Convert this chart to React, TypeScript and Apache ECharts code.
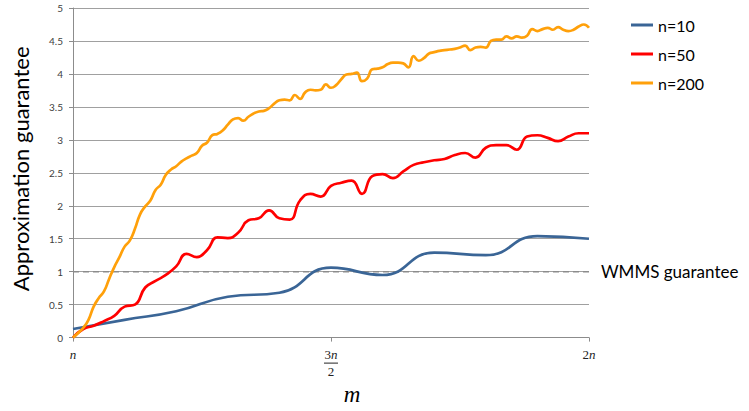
import React, { useEffect, useRef } from "react";
import * as echarts from "echarts";

// x positions are m/n, from n (1) to 2n (2)
const xTickValues = [1, 1.5, 2];
const seriesNames = ["n=10", "n=50", "n=200"];
const guaranteeValue = 1;
const guaranteeLabel = "WMMS guarantee";

const n10 = [0.13, 0.27, 0.4, 0.62, 0.68, 1.06, 0.95, 1.29, 1.25, 1.54, 1.5];

const n50 = [
  0.0, 0.13, 0.18, 0.25, 0.33, 0.47, 0.5, 0.76, 0.86, 0.95,
  1.08, 1.27, 1.22, 1.33, 1.52, 1.51, 1.59, 1.78, 1.81, 1.93,
  1.81, 1.79, 2.08, 2.18, 2.14, 2.3, 2.35, 2.38, 2.18, 2.45,
  2.48, 2.42, 2.52, 2.62, 2.66, 2.69, 2.71, 2.77, 2.8, 2.73,
  2.88, 2.92, 2.92, 2.85, 3.05, 3.07, 3.03, 2.98, 3.05, 3.1,
  3.1,
];

const n200 = [
  0.0, 0.07, 0.15, 0.27, 0.47, 0.6, 0.7, 0.89, 1.07, 1.22,
  1.38, 1.47, 1.65, 1.87, 1.99, 2.08, 2.24, 2.32, 2.47, 2.55,
  2.6, 2.67, 2.72, 2.76, 2.8, 2.91, 2.96, 3.07, 3.09, 3.14,
  3.23, 3.31, 3.33, 3.29, 3.35, 3.4, 3.43, 3.44, 3.48, 3.55,
  3.6, 3.61, 3.6, 3.68, 3.62, 3.72, 3.76, 3.75, 3.76, 3.84,
  3.79, 3.83, 3.92, 3.99, 4.0, 4.02, 3.89, 3.93, 4.07, 4.08,
  4.1, 4.15, 4.17, 4.17, 4.16, 4.1, 4.27, 4.2, 4.24, 4.31,
  4.33, 4.35, 4.36, 4.37, 4.38, 4.4, 4.43, 4.36, 4.4, 4.41,
  4.4, 4.5, 4.52, 4.52, 4.57, 4.54, 4.57, 4.55, 4.58, 4.68,
  4.65, 4.68, 4.7, 4.67, 4.71, 4.67, 4.65, 4.67, 4.72, 4.75,
  4.7,
];

const colors = ["#3a6596", "#ff0000", "#ffa00a"];

function toPairs(vals: number[]) {
  return vals.map((v, i) => [1 + i / (vals.length - 1), v]);
}

export default function App() {
  const ref = useRef<HTMLDivElement>(null);
  useEffect(() => {
    if (!ref.current) return;
    const chart = echarts.init(ref.current, undefined, { renderer: "svg" });
    const sans = "Lato, 'Open Sans', sans-serif";
    const serif = "'Liberation Serif', 'DejaVu Serif', serif";
    chart.setOption({
      animation: false,
      backgroundColor: "#ffffff",
      grid: { left: 73, right: 160, top: 8, bottom: 67, containLabel: false },
      legend: {
        data: seriesNames,
        orient: "vertical",
        left: 626,
        top: 12,
        icon: "rect",
        itemWidth: 22,
        itemHeight: 3,
        itemGap: 13,
        textStyle: { fontFamily: sans, fontSize: 16, color: "#000" },
      },
      xAxis: {
        type: "value",
        min: 1,
        max: 2,
        interval: 0.5,
        name: "m",
        nameLocation: "middle",
        nameGap: 38,
        nameTextStyle: {
          fontFamily: serif,
          fontStyle: "italic",
          fontSize: 23,
          color: "#000",
          padding: [0, 0, 0, 42],
        },
        splitLine: { show: false },
        axisLine: { show: true, lineStyle: { color: "#8c8c8c", width: 1 } },
        axisTick: { show: true, length: 4, lineStyle: { color: "#8c8c8c" } },
        axisLabel: {
          margin: 10,
          fontFamily: serif,
          fontSize: 13,
          color: "#222",
          customValues: xTickValues,
          formatter: (v: number) => {
            if (v === 1) return "{i|n}";
            if (v === 2) return "{d|2}{i|n}";
            return "{d|3}{i|n}\n{bar|}\n{d|2}";
          },
          rich: {
            i: { fontFamily: serif, fontStyle: "italic", fontSize: 13, color: "#222", lineHeight: 14 },
            d: { fontFamily: serif, fontSize: 13, color: "#222", lineHeight: 14 },
            bar: { width: 14, height: 1, lineHeight: 3, backgroundColor: "#222" },
          },
        },
      },
      yAxis: {
        type: "value",
        min: 0,
        max: 5,
        interval: 0.5,
        name: "Approximation guarantee",
        nameLocation: "middle",
        nameGap: 42,
        nameTextStyle: { fontFamily: sans, fontSize: 22, color: "#000", padding: [0, 0, 0, 8] },
        axisLine: { show: true, lineStyle: { color: "#8c8c8c", width: 1 } },
        axisTick: { show: true, length: 4, lineStyle: { color: "#8c8c8c" } },
        axisLabel: { margin: 10, fontFamily: sans, fontSize: 10, color: "#404040" },
        splitLine: { show: true, lineStyle: { color: "#a0a0a0", width: 1 } },
      },
      series: [
        {
          name: "guarantee",
          type: "line",
          data: [
            [1, guaranteeValue],
            [2, guaranteeValue],
          ],
          symbol: "none",
          silent: true,
          lineStyle: { color: "#8c8c8c", width: 1.5, type: [6, 4] },
          endLabel: {
            show: true,
            formatter: guaranteeLabel,
            distance: 12,
            fontFamily: sans,
            fontSize: 17,
            color: "#000",
          },
        },
        {
          name: seriesNames[0],
          type: "line",
          data: toPairs(n10),
          smooth: 0.5,
          symbol: "none",
          color: colors[0],
          lineStyle: { width: 2.7, color: colors[0] },
        },
        {
          name: seriesNames[1],
          type: "line",
          data: toPairs(n50),
          smooth: 0.5,
          symbol: "none",
          color: colors[1],
          lineStyle: { width: 2.7, color: colors[1] },
        },
        {
          name: seriesNames[2],
          type: "line",
          data: toPairs(n200),
          smooth: 0.5,
          symbol: "none",
          color: colors[2],
          lineStyle: { width: 2.7, color: colors[2] },
        },
      ],
    });
    return () => chart.dispose();
  }, []);
  return <div ref={ref} style={{ width: 749, height: 411, position: "absolute", left: 0, top: 0 }} />;
}
